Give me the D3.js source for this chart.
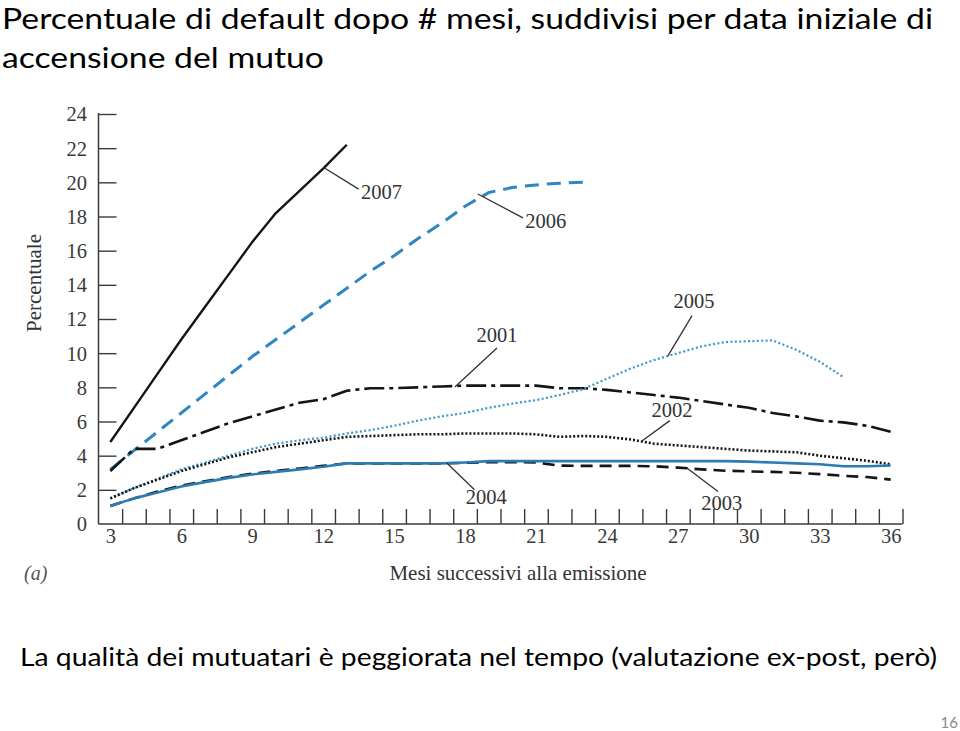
<!DOCTYPE html>
<html><head><meta charset="utf-8">
<script src="https://cdn.jsdelivr.net/npm/d3@7/dist/d3.min.js"></script>
<style>html,body{margin:0;padding:0;background:#fff;}svg{display:block;}</style>
</head><body>
<script>
// ---- data ----
const months = d3.range(3, 37);
const xTickLabels = [3,6,9,12,15,18,21,24,27,30,33,36];
const yTickLabels = [0,2,4,6,8,10,12,14,16,18,20,22,24];
const s2007 = [4.8,6.8,8.8,10.8,12.7,14.6,16.5,18.2,19.5,20.8,22.2];
const s2006 = [3.2,4.3,5.4,6.5,7.6,8.7,9.8,10.8,11.8,12.8,13.8,14.8,15.7,16.7,17.6,18.6,19.4,19.7,19.85,19.95,20.0];
const s2005 = [1.5,2.1,2.65,3.2,3.6,4.0,4.4,4.7,4.9,5.05,5.3,5.5,5.75,6.05,6.3,6.5,6.8,7.05,7.25,7.55,7.9,8.5,9.1,9.6,10.0,10.4,10.65,10.7,10.75,10.2,9.5,8.6];
const s2001 = [3.1,4.4,4.4,4.9,5.4,5.9,6.3,6.7,7.1,7.3,7.8,7.95,7.95,8.0,8.05,8.1,8.1,8.1,8.1,7.95,7.95,7.85,7.7,7.55,7.4,7.2,7.0,6.8,6.5,6.3,6.05,5.95,5.75,5.4];
const s2002 = [1.5,2.1,2.6,3.1,3.5,3.9,4.2,4.5,4.7,4.9,5.1,5.15,5.2,5.25,5.25,5.3,5.3,5.3,5.25,5.1,5.15,5.1,4.95,4.7,4.6,4.5,4.4,4.3,4.25,4.2,4.0,3.85,3.7,3.5];
const s2003 = [1.05,1.5,1.9,2.25,2.5,2.75,2.95,3.1,3.25,3.4,3.55,3.55,3.55,3.55,3.55,3.58,3.62,3.62,3.6,3.42,3.4,3.4,3.4,3.38,3.3,3.2,3.12,3.08,3.05,3.0,2.92,2.82,2.75,2.6];
const s2004 = [1.05,1.5,1.85,2.2,2.45,2.7,2.9,3.05,3.2,3.35,3.55,3.55,3.55,3.55,3.55,3.6,3.68,3.68,3.68,3.68,3.68,3.68,3.68,3.68,3.68,3.68,3.68,3.65,3.6,3.55,3.5,3.38,3.38,3.42];
// annotations: [label, anchor month, anchor value, end month, end value, text month, text value, text-anchor]
const notes = [
  ["2007", 11.99, 20.9, 13.5, 19.6, 13.6, 19.05, "start"],
  ["2006", 18.54, 19.32, 20.45, 17.92, 20.55, 17.35, "start"],
  ["2001", 17.57, 8.02, 19.35, 10.3, 19.35, 10.64, "middle"],
  ["2005", 26.58, 9.84, 27.6, 12.2, 27.68, 12.65, "middle"],
  ["2002", 25.48, 4.86, 26.66, 6.05, 26.75, 6.26, "middle"],
  ["2003", 27.38, 3.28, 28.7, 1.9, 28.86, 0.8, "middle"],
  ["2004", 17.23, 3.57, 18.4, 2.0, 18.9, 1.17, "middle"]
];
const seriesDefs = [
  {name:"2007", vals:s2007, color:"#151515", width:2.4, dash:null},
  {name:"2006", vals:s2006, color:"#2f86c0", width:3, dash:"14,8"},
  {name:"2001", vals:s2001, color:"#151515", width:2.6, dash:"20,5,4,5"},
  {name:"2005", vals:s2005, color:"#3d96cc", width:2.2, dash:"2,2.4"},
  {name:"2002", vals:s2002, color:"#151515", width:2.6, dash:"2,2"},
  {name:"2003", vals:s2003, color:"#151515", width:2.6, dash:"12,7"},
  {name:"2004", vals:s2004, color:"#2a7cb3", width:2.6, dash:null}
];

const W = 960, H = 731;
const svg = d3.select("body").append("svg").attr("width", W).attr("height", H);

const x = d3.scaleLinear().domain([2.5, 36.5]).range([98.5, 902.5]);
const y = d3.scaleLinear().domain([0, 24]).range([524, 114]);
const serif = "'Liberation Serif', 'DejaVu Serif', serif";
const sans = "Lato, 'Open Sans', sans-serif";
const serifSize = 20.5;

// titles
function fitText(sel, len){ sel.attr("textLength", len).attr("lengthAdjust", "spacingAndGlyphs"); }
svg.append("text").attr("x", 2).attr("y", 29).attr("font-family", sans).attr("font-size", 28.5).attr("fill", "#000")
  .text("Percentuale di default dopo # mesi, suddivisi per data iniziale di").call(fitText, 931);
svg.append("text").attr("x", 2).attr("y", 68).attr("font-family", sans).attr("font-size", 29).attr("fill", "#000")
  .text("accensione del mutuo").call(fitText, 322);
svg.append("text").attr("x", 20).attr("y", 666).attr("font-family", sans).attr("font-size", 25).attr("fill", "#000")
  .text("La qualità dei mutuatari è peggiorata nel tempo (valutazione ex-post, però)").call(fitText, 917);
svg.append("text").attr("x", 958).attr("y", 728).attr("text-anchor", "end").attr("font-family", sans).attr("font-size", 15).attr("fill", "#8a8a8a").text("16");

// y axis
const yAxis = d3.axisRight(y).tickValues(yTickLabels.filter(d => d > 0)).tickSize(18).tickFormat("");
const gy = svg.append("g").attr("transform", `translate(${x.range()[0]},0)`).call(yAxis);
gy.select(".domain").remove();
gy.selectAll(".tick line").attr("stroke", "#3a3a3a").attr("stroke-width", 1.4);
svg.append("line").attr("x1", x.range()[0]).attr("x2", x.range()[0]).attr("y1", y(24) - 1).attr("y2", y(0))
  .attr("stroke", "#3a3a3a").attr("stroke-width", 1.5);
const yLab = d3.axisLeft(y).tickValues(yTickLabels).tickSize(0).tickPadding(0).tickFormat(d3.format("d"));
const gyl = svg.append("g").attr("transform", "translate(87,0)").call(yLab);
gyl.select(".domain").remove();
gyl.selectAll("text").attr("font-family", serif).attr("font-size", serifSize).attr("fill", "#3a3a3a").attr("dy", "0.34em");

// x axis
const xTicks = d3.axisTop(x).tickValues(months.map(m => m + 0.5)).tickSize(15).tickFormat("");
const gx = svg.append("g").attr("transform", `translate(0,${y(0)})`).call(xTicks);
gx.select(".domain").remove();
gx.selectAll(".tick line").attr("stroke", "#3a3a3a").attr("stroke-width", 1.4);
svg.append("line").attr("x1", x.range()[0]).attr("x2", x.range()[1]).attr("y1", y(0)).attr("y2", y(0))
  .attr("stroke", "#3a3a3a").attr("stroke-width", 1.5);
const xLab = d3.axisBottom(x).tickValues(xTickLabels).tickSize(0).tickPadding(4).tickFormat(d3.format("d"));
const gxl = svg.append("g").attr("transform", `translate(0,${y(0)})`).call(xLab);
gxl.select(".domain").remove();
gxl.selectAll("text").attr("font-family", serif).attr("font-size", serifSize).attr("fill", "#3a3a3a");

// axis titles
svg.append("text").attr("transform", "translate(41,283) rotate(-90)").attr("text-anchor", "middle")
  .attr("font-family", serif).attr("font-size", 21).attr("fill", "#333").text("Percentuale");
svg.append("text").attr("x", 518).attr("y", 580).attr("text-anchor", "middle")
  .attr("font-family", serif).attr("font-size", 21).attr("fill", "#333").text("Mesi successivi alla emissione");
svg.append("text").attr("x", 24).attr("y", 580).attr("font-family", serif).attr("font-style", "italic")
  .attr("font-size", 20).attr("fill", "#555").text("(a)");

// lines
const line = d3.line().x((d, i) => x(3 + i)).y(d => y(d));
svg.append("g").selectAll("path").data(seriesDefs).join("path")
  .attr("d", d => line(d.vals))
  .attr("fill", "none")
  .attr("stroke", d => d.color)
  .attr("stroke-width", d => d.width)
  .attr("stroke-dasharray", d => d.dash)
  .attr("stroke-linejoin", "round");

// annotations
const ga = svg.append("g");
ga.selectAll("line").data(notes).join("line")
  .attr("x1", d => x(d[1])).attr("y1", d => y(d[2]))
  .attr("x2", d => x(d[3])).attr("y2", d => y(d[4]))
  .attr("stroke", "#333").attr("stroke-width", 1.3);
ga.selectAll("text").data(notes).join("text")
  .attr("x", d => x(d[5])).attr("y", d => y(d[6]))
  .attr("text-anchor", d => d[7])
  .attr("font-family", serif).attr("font-size", serifSize).attr("fill", "#333")
  .text(d => d[0]);
</script>
</body></html>
